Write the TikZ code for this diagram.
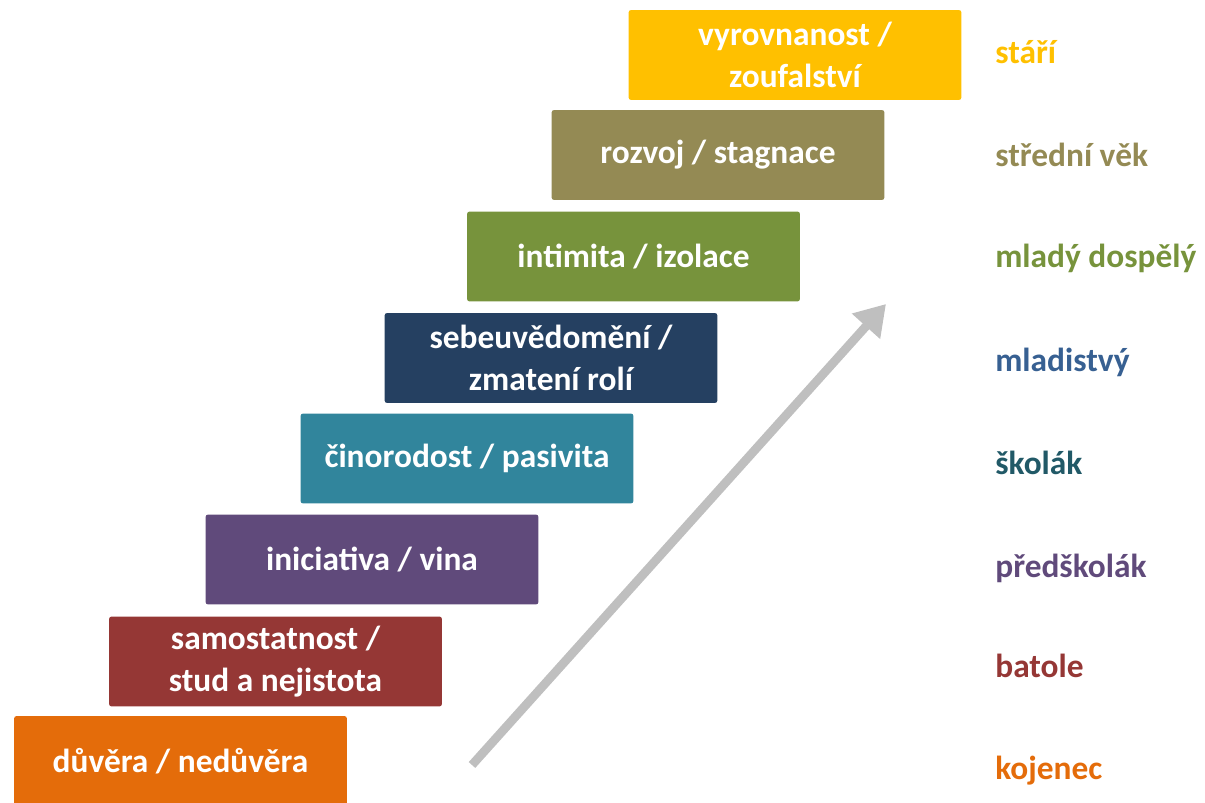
\documentclass[tikz,border=0pt]{standalone}
\usepackage{fontspec}
\setmainfont{Carlito}
\usetikzlibrary{arrows.meta}
\begin{document}
\begin{tikzpicture}[x=0.02cm, y=-0.02cm,
    stage/.style={fill=#1, text=white, minimum width=6.66cm, minimum height=1.8cm,
      inner sep=0pt, rounded corners=1.5pt, align=center,
      font=\fontsize{19}{23.5}\selectfont\bfseries},
    age/.style={text=#1, anchor=base west, inner sep=0pt,
      font=\fontsize{19}{22}\selectfont\bfseries}]
        \definecolor{cOrange}{RGB}{228,108,10}
        \definecolor{cRed}{RGB}{149,55,53}
        \definecolor{cPurple}{RGB}{96,74,123}
        \definecolor{cTeal}{RGB}{49,133,156}
        \definecolor{cNavy}{RGB}{37,64,97}
        \definecolor{cGreen}{RGB}{119,147,60}
        \definecolor{cOlive}{RGB}{148,138,84}
        \definecolor{cGold}{RGB}{255,192,0}
        \definecolor{cBlue}{RGB}{55,96,146}
        \definecolor{cDarkTeal}{RGB}{33,89,103}
        \definecolor{cArrow}{RGB}{191,191,191}
        \useasboundingbox (0,0) rectangle (1205,803);
        % growth arrow
        \coordinate (arrStart) at (472,765);
        \coordinate (arrEnd) at (886,304);
        \draw[cArrow, line width=5pt, -{Triangle[width=0.72cm, length=0.6cm]}] (arrStart) -- (arrEnd);
        % stages
        \node[stage=cOrange] (duvera) at (180.5,761) {důvěra / nedůvěra};
        \node[stage=cRed] (samostatnost) at (275.5,661.5) {samostatnost /\\stud a nejistota};
        \node[stage=cPurple] (iniciativa) at (372,559.5) {iniciativa / vina};
        \node[stage=cTeal] (cinorodost) at (467,458.5) {činorodost / pasivita};
        \node[stage=cNavy] (sebeuvedomeni) at (551,358) {sebeuvědomění /\\zmatení rolí};
        \node[stage=cGreen] (intimita) at (633.5,256.5) {intimita / izolace};
        \node[stage=cOlive] (rozvoj) at (718,155) {rozvoj / stagnace};
        \node[stage=cGold] (vyrovnanost) at (795,55) {vyrovnanost /\\zoufalství};
        % ages
        \node[age=cGold] (stari) at (995,64) {stáří};
        \node[age=cOlive] (stredni) at (995,167) {střední věk};
        \node[age=cGreen] (mlady) at (995,268) {mladý dospělý};
        \node[age=cBlue] (mladistvy) at (995,372) {mladistvý};
        \node[age=cDarkTeal] (skolak) at (995,475) {školák};
        \node[age=cPurple] (predskolak) at (995,578) {předškolák};
        \node[age=cRed] (batole) at (995,678) {batole};
        \node[age=cOrange] (kojenec) at (995,780) {kojenec};
      \end{tikzpicture}
\end{document}
